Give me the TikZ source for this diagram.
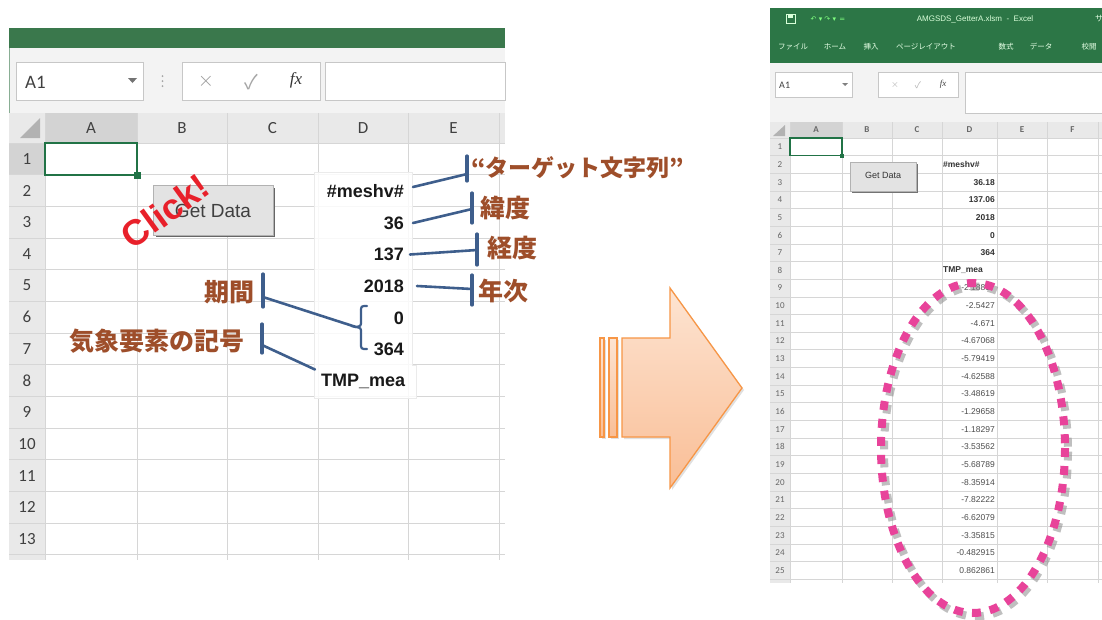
\documentclass[tikz,border=0pt]{standalone}
\usepackage{fontspec}
\setmainfont{Liberation Sans}
\newfontfamily\jp{Noto Sans CJK JP}
\newfontfamily\xl{Carlito}
\newfontfamily\dvfont{DejaVu Sans}
\newcommand\fsz[1]{\fontsize{#1}{#1}\selectfont}
\definecolor{xlgreen}{RGB}{58,120,76}
\definecolor{xlgreenB}{RGB}{44,118,70}
\definecolor{uigray}{RGB}{243,243,243}
\definecolor{hdr}{RGB}{233,233,233}
\definecolor{hdrsel}{RGB}{211,211,211}
\definecolor{gridc}{RGB}{214,214,214}
\definecolor{selg}{RGB}{33,115,70}
\definecolor{brownlab}{RGB}{158,78,42}
\definecolor{connb}{RGB}{62,94,140}
\definecolor{clickred}{RGB}{232,32,42}
\definecolor{pinkd}{RGB}{232,67,154}
\definecolor{arrO}{RGB}{247,150,70}
\definecolor{arrT}{RGB}{253,228,210}
\definecolor{arrB}{RGB}{249,190,150}
\tikzset{
  grid/.style={draw=gridc, line width=0.9},
  rn/.style={font=\xl\fsz{17}, text=black!75, inner sep=0},
  cl/.style={font=\xl\fsz{17}, text=black!75, inner sep=0},
  val/.style={font=\bfseries\fsz{18}, text=black!90, inner sep=0, anchor=east},
  lab/.style={font=\jp\bfseries\fsz{25}, text=brownlab, inner sep=0},
  conn/.style={draw=connb, line width=2.6, line cap=round},
  bar/.style={draw=connb, line width=3.2, line cap=round},
  box/.style={draw=black!22, fill=white, line width=0.8},
  rrn/.style={font=\xl\fsz{9}, text=black!60, inner sep=0},
  rval/.style={font=\fsz{8.5}, text=black!70, inner sep=0, anchor=east},
  rvalb/.style={font=\bfseries\fsz{8.5}, text=black!80, inner sep=0, anchor=east},
  menu/.style={font=\jp\fsz{7.5}, text=white!90!green, inner sep=0},
  pinkdots/.style={line width=8, dash pattern=on 9 off 9},
}
\begin{document}
\begin{tikzpicture}[x=1pt,y=-1pt]
\useasboundingbox (0,0) rectangle (1102,619);
\fill[white] (0,0) rectangle (1102,619);

%================ LEFT SHEET =================
\fill[xlgreen] (9,28) rectangle (505,48);
\fill[uigray] (9,48) rectangle (505,113);
\draw[xlgreen!60, line width=0.8] (9.5,48) -- (9.5,560);
% formula bar
\node[box, minimum width=127, minimum height=38, anchor=north west] (nbox) at (16,62) {};
\node[font=\xl\fsz{19}, text=black!75, anchor=west, inner sep=0] (a1) at (25,82) {A1};
\fill[black!55] (128,78) -- (137,78) -- (132.5,83) -- cycle;
\foreach \yy in {76,81,86} \fill[black!35] (162.5,\yy) circle (1);
\node[box, minimum width=138, minimum height=38, anchor=north west] (fbox) at (182,62) {};
\node[font=\fsz{22}, text=black!40, inner sep=0] (xx) at (206,81) {$\times$};
\node[font=\jp\fsz{20}, text=black!35, inner sep=0] (ck) at (251,82) {✓};
\node[font=\fontspec{Liberation Serif}\itshape\fsz{17}, text=black!80, inner sep=0] (fx) at (296,80) {fx};
\node[box, minimum width=180, minimum height=38, anchor=north west] (ibox) at (325,62) {};
% headers
\fill[hdr] (9,113) rectangle (505,143);
\fill[hdr] (9,143) rectangle (45,560);
\fill[hdrsel] (45,113) rectangle (137,143);
\fill[hdrsel] (9,143) rectangle (45,175);
\fill[black!30] (20,138) -- (40,118) -- (40,138) -- cycle;
\foreach \x in {137,227,318,408,499} \draw[grid] (\x,113) -- (\x,560);
\draw[grid] (45,113) -- (45,560);
\foreach \k in {0,...,13} \draw[grid] (9,{143+31.67*\k}) -- (505,{143+31.67*\k});
\foreach \k in {1,...,13} \node[rn] (L\k) at (27,{143+31.67*(\k-0.5)}) {\k};
\foreach \c/\x in {A/91,B/182,C/272.5,D/363,E/453.5} \node[cl] (LC\c) at (\x,128) {\c};
\draw[selg, line width=2] (45,143) rectangle (137,175);
\fill[selg] (133.5,171.5) rectangle (140.5,178.5);

% Get Data button
\fill[black!60] (156,188) rectangle (275,237);
\node[draw=black!30, fill=black!11, minimum width=120, minimum height=50, anchor=north west, inner sep=0] (btn) at (153,185) {};
\node[font=\fsz{19}, text=black!75, inner sep=0] (btnt) at (213,211) {Get Data};
% Click!
\node[font=\bfseries\fsz{36}, text=clickred, rotate=36, inner sep=0] (click) at (165,211) {Click!};

% D column box
\fill[white, opacity=0.85] (314,172) rectangle (412,365);
\fill[white, opacity=0.85] (314,365) rectangle (416,398);
\draw[black!8, line width=1] (314,172) -- (412,172) -- (412,365) -- (416,365) -- (416,398) -- (314,398) -- cycle;
\node[val] (vmesh) at (404,191) {\#meshv\#};
\node[val] (v36) at (404,223) {36};
\node[val] (v137) at (404,254.5) {137};
\node[val] (v2018) at (404,286) {2018};
\node[val] (v0) at (404,318) {0};
\node[val] (v364) at (404,349.5) {364};
\node[val, anchor=west] (vtmp) at (321,381) {TMP\_mea};

% labels
\node[lab, font=\jp\bfseries\fsz{23}, anchor=west] (ltgt) at (471,168) {“ターゲット文字列”};
\node[lab, anchor=west] (llat) at (480,208) {緯度};
\node[lab, anchor=west] (llon) at (487,248) {経度};
\node[lab, anchor=west] (lyr) at (478,291) {年次};
\node[lab, anchor=east] (lper) at (255,292) {期間};
\node[lab, anchor=east] (lelem) at (245,341) {気象要素の記号};

% connectors
\coordinate (b1t) at (467,156); \coordinate (b1b) at (467,181); \coordinate (b1m) at (467,174);
\coordinate (b2t) at (472,193); \coordinate (b2b) at (472,223); \coordinate (b2m) at (472,209);
\coordinate (b3t) at (477,234); \coordinate (b3b) at (477,265); \coordinate (b3m) at (477,250);
\coordinate (b4t) at (472,275); \coordinate (b4b) at (472,305); \coordinate (b4m) at (472,289);
\coordinate (b5t) at (263,274); \coordinate (b5b) at (263,307); \coordinate (b5m) at (263,297);
\coordinate (b6t) at (262,324); \coordinate (b6b) at (262,353); \coordinate (b6m) at (262,345);
\coordinate (btip) at (356,327);
\draw[bar] (b1t) -- (b1b);
\draw[bar] (b2t) -- (b2b);
\draw[bar] (b3t) -- (b3b);
\draw[bar] (b4t) -- (b4b);
\draw[bar] (b5t) -- (b5b);
\draw[bar] (b6t) -- (b6b);
\draw[conn] ([xshift=9,yshift=4]vmesh.east) -- (b1m);
\draw[conn] ([xshift=9]v36.east) -- (b2m);
\draw[conn] ([xshift=6]v137.east) -- (b3m);
\draw[conn] ([xshift=13]v2018.east) -- (b4m);
\draw[conn] (b5m) -- (btip);
\draw[conn] (b6m) -- ([xshift=-6,yshift=4]vtmp.north west);
\draw[connb, line width=2.2, line cap=round]
  (367,306) .. controls (361,306) .. (361,312) -- (361,321)
  .. controls (361,326) .. (btip) .. controls (361,328) .. (361,333)
  -- (361,343) .. controls (361,349) .. (367,349);

%================ ARROW =================
\fill[black!12] (602,340) rectangle (606,439);
\fill[black!12] (611,340) rectangle (619,439);
\fill[black!12] (624,340) -- (672,340) -- (672,290) -- (744,390) -- (672,490) -- (672,439) -- (624,439) -- cycle;
\path[draw=arrO, line width=1.3, top color=arrT, bottom color=arrB] (600,338) rectangle (604,437);
\path[draw=arrO, line width=1.3, top color=arrT, bottom color=arrB] (609,338) rectangle (617,437);
\path[draw=arrO, line width=1.3, top color=arrT, bottom color=arrB]
  (622,338) -- (670,338) -- (670,288) -- (742,388) -- (670,488) -- (670,437) -- (622,437) -- cycle;

%================ RIGHT SHEET =================
\fill[xlgreenB] (770,8) rectangle (1102,63);
\node[font=\fsz{8}, text=white!85!green, inner sep=0] (ttl) at (975,19) {AMGSDS\_GetterA.xlsm\ \ -\ \ Excel};
\draw[white!85!green, line width=1] (786,14) rectangle (795,23);
\fill[white!85!green] (788,14) rectangle (793,17.5);
\node[font=\dvfont\fsz{7}, text=white!50!green, inner sep=0] (undo) at (828,19) {↶ ▾ ↷ ▾ \,=};
\node[menu, font=\jp\fsz{8}] (sa) at (1099,19) {サ};
\node[menu] (m1) at (793,47) {ファイル};
\node[menu] (m2) at (835,47) {ホーム};
\node[menu] (m3) at (871,47) {挿入};
\node[menu] (m4) at (926,47) {ページレイアウト};
\node[menu] (m5) at (1006,47) {数式};
\node[menu] (m6) at (1041,47) {データ};
\node[menu] (m7) at (1089,47) {校閲};
\fill[uigray] (770,63) rectangle (1102,122);
\node[box, minimum width=77, minimum height=25, anchor=north west] (rnbox) at (775,72) {};
\node[font=\xl\fsz{10}, text=black!75, anchor=west, inner sep=0] (ra1) at (779,85) {A1};
\fill[black!50] (842,83) -- (848,83) -- (845,86) -- cycle;
\node[box, minimum width=80, minimum height=25, anchor=north west] (rfbox) at (878,72) {};
\node[font=\fsz{10}, text=black!35, inner sep=0] (rxx) at (895,85) {$\times$};
\node[font=\jp\fsz{9}, text=black!30, inner sep=0] (rck) at (918,85) {✓};
\node[font=\fontspec{Liberation Serif}\itshape\fsz{9}, text=black!75, inner sep=0] (rfx) at (943,84) {fx};
\node[box, minimum width=137, minimum height=41, anchor=north west] (ribox) at (965,72) {};
\fill[hdr] (770,122) rectangle (1102,138);
\fill[hdrsel] (790,122) rectangle (842,138);
\fill[hdr] (770,138) rectangle (790,583);
\fill[black!30] (773,136) -- (785,125) -- (785,136) -- cycle;
\foreach \x in {842,892,942,997,1047,1098} \draw[grid, line width=0.7] (\x,122) -- (\x,583);
\draw[grid, line width=0.7] (790,122) -- (790,583);
\foreach \k in {0,...,25} \draw[grid, line width=0.7] (770,{138+17.65*\k}) -- (1102,{138+17.65*\k});
\foreach \k in {1,...,25} \node[rrn] (R\k) at (780,{138+17.65*(\k-0.5)}) {\k};
\foreach \c/\x in {A/816,B/867,C/917,D/969.5,E/1022,F/1072.5} \node[rrn, font=\xl\bfseries\fsz{9}] (RC\c) at (\x,130) {\c};
\draw[selg, line width=1.2] (790,138) rectangle (842,155.65);
\fill[selg] (840,153.6) rectangle (844,157.6);
% button
\fill[black!55] (852,164) rectangle (918,193);
\node[draw=black!30, fill=black!11, minimum width=66, minimum height=29, anchor=north west, inner sep=0] (rbtn) at (850,162) {};
\node[font=\fsz{9}, text=black!80, inner sep=0] (rbtnt) at (883,175.5) {Get Data};
% values
\node[rvalb, anchor=west] (rv2) at (943,{138+17.65*1.5}) {\#meshv\#};
\node[rvalb] (rv3) at (995,{138+17.65*2.5}) {36.18};
\node[rvalb] (rv4) at (995,{138+17.65*3.5}) {137.06};
\node[rvalb] (rv5) at (995,{138+17.65*4.5}) {2018};
\node[rvalb] (rv6) at (995,{138+17.65*5.5}) {0};
\node[rvalb] (rv7) at (995,{138+17.65*6.5}) {364};
\node[rvalb, anchor=west] (rv8) at (943,{138+17.65*7.5}) {TMP\_mea};
\foreach \k/\v in {9/-2.18817,10/-2.5427,11/-4.671,12/-4.67068,13/-5.79419,14/-4.62588,15/-3.48619,16/-1.29658,17/-1.18297,18/-3.53562,19/-5.68789,20/-8.35914,21/-7.82222,22/-6.62079,23/-3.35815,24/-0.482915,25/0.862861}
  \node[rval] (rv\k) at (995,{138+17.65*(\k-0.5)}) {\v};
% pink dotted ellipse
\draw[pinkdots, black!45, opacity=0.55] (976,451.5) ellipse [x radius=92, y radius=165];
\draw[pinkdots, pinkd] (973,448) ellipse [x radius=92, y radius=165];
\end{tikzpicture}
\end{document}
